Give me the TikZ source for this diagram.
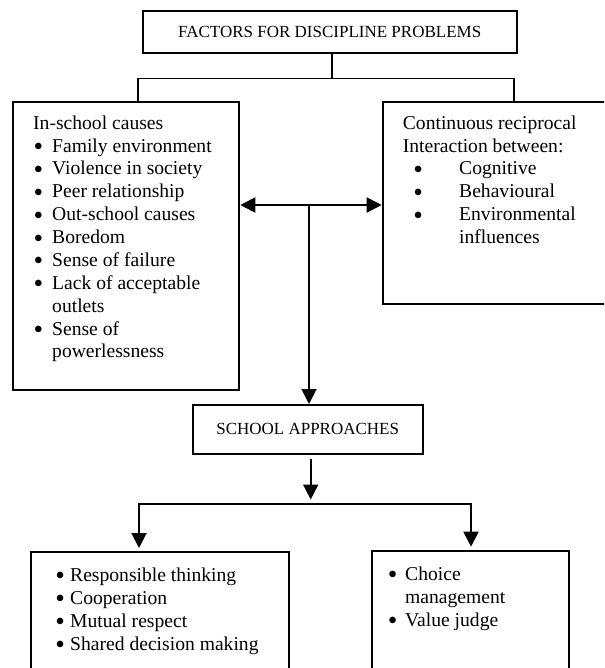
\documentclass[tikz,border=0pt]{standalone}
\usepackage{fontspec}
\setmainfont{Liberation Serif}
\usetikzlibrary{arrows.meta}
\newcommand\bul[2]{\makebox[#1][l]{\hspace{#2}\smash{\raisebox{-3.4pt}{\scalebox{1.4}{\textbullet}}}}}
\begin{document}
\begin{tikzpicture}[x=1pt,y=-1pt,
  box/.style={draw, line width=2pt, inner sep=0pt, anchor=north west},
  capt/.style={font=\fontsize{17}{20}\selectfont},
  itm/.style={inner sep=0pt, anchor=base west, font=\fontsize{19.6}{22.9}\selectfont},
  conn/.style={line width=1.9pt},
  arr/.style={line width=1.9pt, -{Triangle[length=15pt,width=15pt]}},
  dbl/.style={line width=1.9pt, {Triangle[length=15pt,width=15pt]}-{Triangle[length=15pt,width=15pt]}}]
\useasboundingbox (0,0) rectangle (604,668);
\clip (0,0) rectangle (604,668);
% boxes
\node[box, capt, minimum width=374pt, minimum height=42.5pt] (title) at (141.7,10) {FACTORS FOR DISCIPLINE PROBLEMS};
\node[box, minimum width=226pt, minimum height=288pt] (lbox) at (12.3,101) {};
\node[box, minimum width=240pt, minimum height=202pt] (rbox) at (381.7,100.7) {};
\node[box, capt, minimum width=230pt, minimum height=48.7pt] (school) at (191.7,404) {SCHOOL APPROACHES};
\node[box, minimum width=258.3pt, minimum height=140pt] (blbox) at (30,550.7) {};
\node[box, minimum width=197pt, minimum height=140pt] (brbox) at (370.7,550) {};
% left top text
\node[itm] (l1) at (33,129.3) {In-school causes};
\node[itm] (l2) at (33,152.2) {\bul{19pt}{0.5pt}Family environment};
\node[itm] (l3) at (33,175.0) {\bul{19pt}{0.5pt}Violence in society};
\node[itm] (l4) at (33,197.9) {\bul{19pt}{0.5pt}Peer relationship};
\node[itm] (l5) at (33,220.7) {\bul{19pt}{0.5pt}Out-school causes};
\node[itm] (l6) at (33,243.6) {\bul{19pt}{0.5pt}Boredom};
\node[itm] (l7) at (33,266.4) {\bul{19pt}{0.5pt}Sense of failure};
\node[itm] (l8) at (33,289.3) {\bul{19pt}{0.5pt}Lack of acceptable};
\node[itm] (l9) at (52,312.1) {outlets};
\node[itm] (l10) at (33,335.0) {\bul{19pt}{0.5pt}Sense of};
\node[itm] (l11) at (52,357.8) {powerlessness};
% right top text
\node[itm] (r1) at (402.7,129.3) {Continuous reciprocal};
\node[itm] (r2) at (402.7,152.2) {Interaction between:};
\node[itm] (r3) at (402.7,175.0) {\bul{56.3pt}{10.5pt}Cognitive};
\node[itm] (r4) at (402.7,197.9) {\bul{56.3pt}{10.5pt}Behavioural};
\node[itm] (r5) at (402.7,220.7) {\bul{56.3pt}{10.5pt}Environmental};
\node[itm] (r6) at (459,243.6) {influences};
% bottom left text
\node[itm] (b1) at (55,581) {\bul{15pt}{0.2pt}Responsible thinking};
\node[itm] (b2) at (55,604) {\bul{15pt}{0.2pt}Cooperation};
\node[itm] (b3) at (55,627) {\bul{15pt}{0.2pt}Mutual respect};
\node[itm] (b4) at (55,650) {\bul{15pt}{0.2pt}Shared decision making};
% bottom right text
\node[itm] (c1) at (387,580) {\bul{18pt}{0.7pt}Choice};
\node[itm] (c2) at (405,603) {management};
\node[itm] (c3) at (387,626) {\bul{18pt}{0.7pt}Value judge};
% connectors
\coordinate (j1) at (331.7,78.5);
\coordinate (cl) at (138,78.5);
\coordinate (cr) at (514,78.5);
\draw[conn] (title.south -| j1) -- (j1);
\draw[conn] (lbox.north -| cl) -- (cl) -- (cr) -- (rbox.north -| cr);
\coordinate (m) at (309,205);
\draw[dbl] (lbox.east |- m) -- (rbox.west |- m);
\draw[arr] (m) -- (school.north -| m);
\coordinate (s1) at (310.7,459);
\coordinate (s2) at (310.7,504);
\draw[arr, shorten >=4.5pt] (s1) -- (s2);
\coordinate (bl) at (139,504);
\coordinate (br) at (471,504);
\draw[dbl, shorten <=2.7pt, shorten >=3.3pt] (blbox.north -| bl) -- (bl) -- (br) -- (brbox.north -| br);
\end{tikzpicture}
\end{document}
